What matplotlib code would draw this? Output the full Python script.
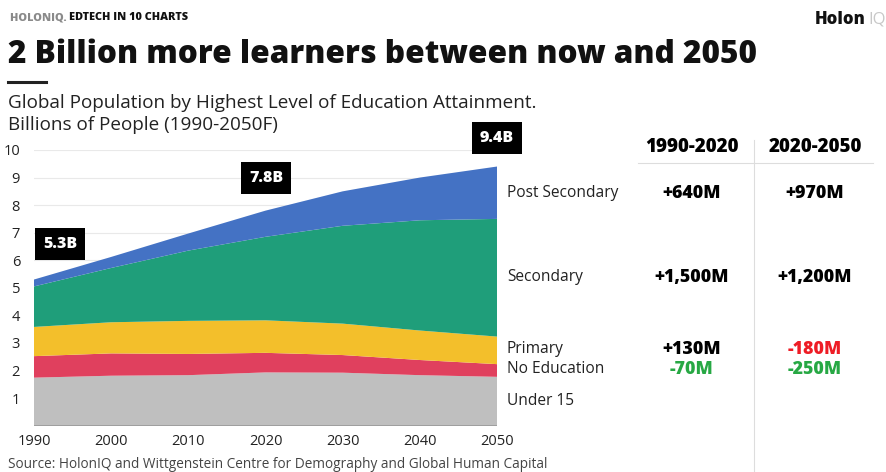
import numpy as np
import matplotlib.pyplot as plt

W, H = 887, 472

years = [1990, 2000, 2010, 2020, 2030, 2040, 2050]
under_15 = [1.74, 1.81, 1.83, 1.93, 1.92, 1.83, 1.77]
no_education = [0.78, 0.81, 0.77, 0.71, 0.64, 0.55, 0.46]
primary = [1.06, 1.13, 1.20, 1.18, 1.14, 1.07, 1.00]
secondary = [1.47, 1.97, 2.55, 3.03, 3.55, 4.00, 4.27]
post_secondary = [0.25, 0.40, 0.62, 0.95, 1.25, 1.55, 1.90]

layer_names = ["Under 15", "No Education", "Primary", "Secondary", "Post Secondary"]
layer_colors = ["#bfbfbf", "#e0405e", "#f3bf2b", "#1f9e7a", "#4472c4"]

totals_years = [1990, 2020, 2050]
totals_labels = ["5.3B", "7.8B", "9.4B"]

periods = ["1990-2020", "2020-2050"]
change_1990_2020 = ["+640M", "+1,500M", "+130M", "-70M"]
change_2020_2050 = ["+970M", "+1,200M", "-180M", "-250M"]
change_colors_1 = ["black", "black", "black", "#27a844"]
change_colors_2 = ["black", "black", "#ee1c25", "#27a844"]

plt.rcParams['font.family'] = ['Open Sans', 'DejaVu Sans']

fig = plt.figure(figsize=(W / 100, H / 100), dpi=100)


def px(x, y):
    return x / W, 1 - y / H


ax = fig.add_axes([34 / W, 46.4 / H, 463 / W, 275.6 / H])
ax.stackplot(years, under_15, no_education, primary, secondary, post_secondary,
             colors=layer_colors, linewidth=0, zorder=2)
ax.set_xlim(1990, 2050)
ax.set_ylim(0, 10)
ax.set_yticks(range(1, 11))
ax.set_xticks(years)
ax.grid(axis='y', color='#e9e9e9', linewidth=0.8, zorder=0)
ax.tick_params(length=0, labelsize=10.5, colors='#222222')
ax.tick_params(axis='y', pad=10)
ax.tick_params(axis='x', pad=6)
for s in ax.spines.values():
    s.set_visible(False)
ax.axhline(0, color='#999999', linewidth=2, zorder=3)

# total boxes
stack = np.vstack([under_15, no_education, primary, secondary, post_secondary])
totals = stack.sum(axis=0)
box_offset = {1990: (3.4, 1.3), 2020: (0.1, 1.2), 2050: (0.0, 1.05)}
for yr, lab in zip(totals_years, totals_labels):
    i = years.index(yr)
    dx, dy = box_offset[yr]
    ax.text(yr + dx, totals[i] + dy, lab, ha='center', va='center', color='white',
            fontsize=11.5, fontweight='heavy', clip_on=False, zorder=5,
            bbox=dict(boxstyle='square,pad=0.5', facecolor='black', edgecolor='none'))

# right side layer labels
label_y = [401, 369, 349, 277, 193]
for name, yy in zip(layer_names, label_y):
    fig.text(*px(507, yy), name, ha='left', va='center', fontsize=11.2, color='#222222')

# change table
col_x = [692, 815]
fig.text(*px(col_x[0], 147), periods[0], ha='center', va='center', fontsize=13.5, fontweight='heavy')
fig.text(*px(col_x[1], 147), periods[1], ha='center', va='center', fontsize=13.5, fontweight='heavy')
fig.add_artist(plt.Line2D([638 / W, 873 / W], [1 - 163 / H, 1 - 163 / H], color='#dddddd', linewidth=0.8))
fig.add_artist(plt.Line2D([754 / W, 754 / W], [1 - 140 / H, 0], color='#dddddd', linewidth=0.8))
row_y = [193, 277, 349, 369]
for j, yy in enumerate(row_y):
    fig.text(*px(col_x[0], yy), change_1990_2020[j], ha='center', va='center',
             fontsize=12.8, fontweight='heavy', color=change_colors_1[j])
    fig.text(*px(col_x[1], yy), change_2020_2050[j], ha='center', va='center',
             fontsize=12.8, fontweight='heavy', color=change_colors_2[j])

# header texts
t = fig.text(*px(10, 18), "HOLONIQ. ", ha='left', va='center', fontsize=7.8, fontweight='heavy', color='#8a8a8a')
fig.canvas.draw()
bb = t.get_window_extent()
fig.text(bb.x1 / W, 1 - 18 / H, "EDTECH IN 10 CHARTS", ha='left', va='center',
         fontsize=7.8, fontweight='heavy', color='#111111')
t2 = fig.text(*px(815, 19), "Holon", ha='left', va='center', fontsize=12, fontweight='heavy', color='#111111')
fig.canvas.draw()
bb2 = t2.get_window_extent()
fig.text((bb2.x1 + 3) / W, 1 - 19 / H, "IQ", ha='left', va='center', fontsize=12, color='#c8c8c8')

fig.text(*px(8, 55), "2 Billion more learners between now and 2050", ha='left', va='center',
         fontsize=22.7, fontweight='heavy', color='#111111')
fig.add_artist(plt.Line2D([8 / W, 46 / W], [1 - 82 / H, 1 - 82 / H], color='#222222', linewidth=2.2))
fig.text(*px(8, 103), "Global Population by Highest Level of Education Attainment.", ha='left',
         va='center', fontsize=13.6, color='#222222')
fig.text(*px(8, 125), "Billions of People (1990-2050F)", ha='left', va='center',
         fontsize=13.6, color='#222222')
fig.text(*px(8, 465), "Source: HolonIQ and Wittgenstein Centre for Demography and Global Human Capital",
         ha='left', va='center', fontsize=9.8, color='#444444')

fig.savefig("out.png", dpi=100)
